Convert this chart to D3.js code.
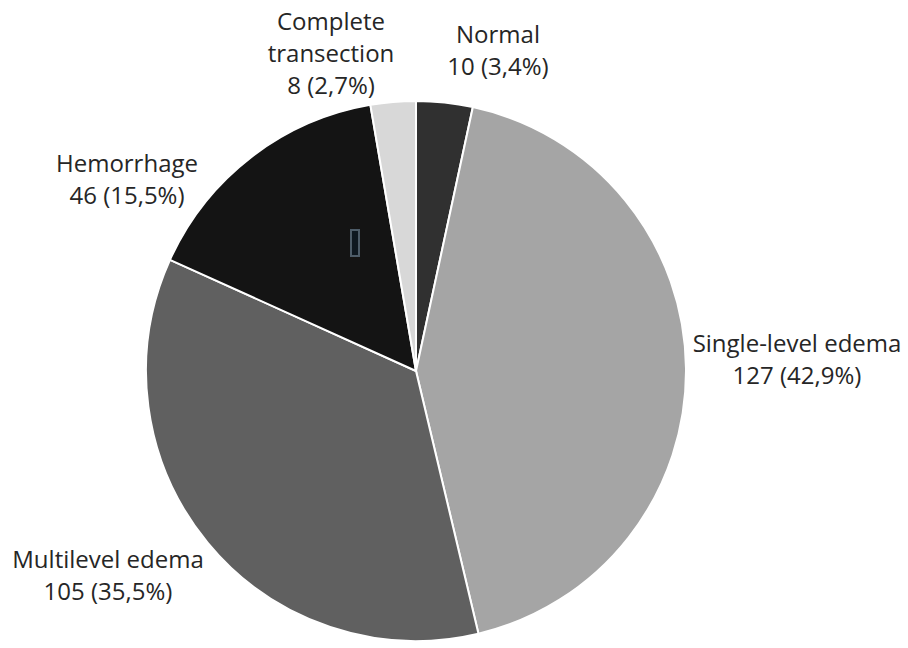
<!DOCTYPE html>
<html>
<head>
<meta charset="utf-8">
<script src="https://cdn.jsdelivr.net/npm/d3@7"></script>
<style>
  body { margin: 0; background: #fff; }
  svg text { font-family: "Open Sans", Lato, sans-serif; fill: #262626; }
</style>
</head>
<body>
<div id="chart"></div>
<script>
var width = 908,
    height = 648;

// data
var categories = ["Normal", "Single-level edema", "Multilevel edema", "Hemorrhage", "Complete transection"];
var counts = [10, 127, 105, 46, 8];
var percentLabels = ["3,4%", "42,9%", "35,5%", "15,5%", "2,7%"];
var colors = ["#303030", "#a5a5a5", "#606060", "#141414", "#d8d8d8"];

// label placement (centre x, first line y)
var labelPos = [
  [498, 43, ["Normal"]],
  [797, 352, ["Single-level edema"]],
  [108, 568, ["Multilevel edema"]],
  [127, 172, ["Hemorrhage"]],
  [331, 30, ["Complete", "transection"]]
];

var cx = 416, cy = 371, r = 270;

var svg = d3.select("#chart").append("svg")
    .attr("width", width)
    .attr("height", height);

var pie = d3.pie().sort(null).value(function(d) { return d; });
var arc = d3.arc().innerRadius(0).outerRadius(r);

var slices = pie(counts);

var g = svg.append("g").attr("transform", "translate(" + cx + "," + cy + ")");

g.selectAll("path")
  .data(slices)
  .enter().append("path")
    .attr("d", arc)
    .attr("fill", function(d, i) { return colors[i]; })
    .attr("stroke", "#fff")
    .attr("stroke-width", 2);

// small marker left in the original figure
svg.append("rect")
    .attr("x", 351).attr("y", 230)
    .attr("width", 8).attr("height", 26)
    .attr("fill", "#0e1820")
    .attr("stroke", "#4d5c68")
    .attr("stroke-width", 2);

var lineH = 32;
labelPos.forEach(function(p, i) {
  var lines = p[2].concat([counts[i] + " (" + percentLabels[i] + ")"]);
  var t = svg.append("text")
      .attr("text-anchor", "middle")
      .attr("font-size", 24);
  lines.forEach(function(l, j) {
    t.append("tspan")
      .attr("x", p[0])
      .attr("y", p[1] + j * lineH)
      .text(l);
  });
});
</script>
</body>
</html>
